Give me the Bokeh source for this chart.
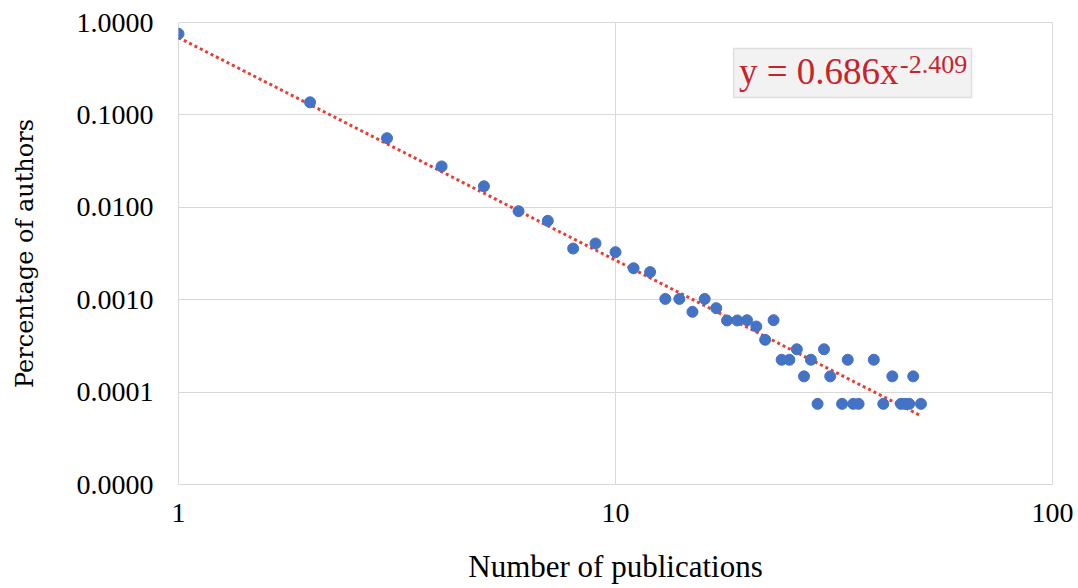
import numpy as np
from bokeh.plotting import figure
from bokeh.models import (Range1d, FixedTicker, PrintfTickFormatter, Label,
                          BoxAnnotation)
from bokeh.embed import file_html
from bokeh.resources import INLINE

# ---- data ----
publications = [1, 2, 3, 4, 5, 6, 7, 8, 9, 10, 11, 12, 13, 14, 15, 16, 17, 18,
                19, 20, 21, 22, 23, 24, 25, 26, 27, 28, 29, 30, 31, 33, 34, 35,
                36, 39, 41, 43, 45, 46, 47, 48, 50]
pct_authors = [0.755, 0.137, 0.056, 0.0277, 0.0169, 0.00908, 0.00714, 0.00358,
               0.00406, 0.00327, 0.00219, 0.00199, 0.00102, 0.00102, 0.00074,
               0.00102, 0.00081, 0.000596, 0.000596, 0.0006, 0.000513, 0.000368,
               0.0006, 0.000224, 0.000224, 0.000291, 0.000148, 0.000224,
               0.0000746, 0.000291, 0.000148, 0.0000746, 0.000224, 0.0000746,
               0.0000746, 0.000224, 0.0000746, 0.000148, 0.0000746, 0.0000746,
               0.0000746, 0.000148, 0.0000746]
fit_coef = 0.686
fit_exp = -2.409
fit_range = [1, 50]
x_ticks = [1, 10, 100]
y_ticks = [0.00001, 0.0001, 0.001, 0.01, 0.1, 1.0]

FONT = "Liberation Serif"

p = figure(width=1076, height=586, x_axis_type="log", y_axis_type="log",
           x_range=Range1d(1, 100), y_range=Range1d(0.00001, 1.0),
           output_backend="svg", toolbar_location=None,
           min_border_left=178, min_border_right=24, min_border_top=22,
           min_border_bottom=102)

p.outline_line_color = "#D9D9D9"
p.outline_line_width = 1
p.background_fill_color = "white"
p.border_fill_color = "white"

# grid
p.xgrid.grid_line_color = "#D9D9D9"
p.ygrid.grid_line_color = "#D9D9D9"
p.xgrid.grid_line_width = 1
p.ygrid.grid_line_width = 1

# axes
p.xaxis.ticker = FixedTicker(ticks=x_ticks, minor_ticks=[])
p.yaxis.ticker = FixedTicker(ticks=y_ticks, minor_ticks=[])
p.xaxis.formatter = PrintfTickFormatter(format="%d")
p.yaxis.formatter = PrintfTickFormatter(format="%.4f")
for ax in (p.xaxis[0], p.yaxis[0]):
    ax.axis_line_color = None
    ax.major_tick_line_color = None
    ax.minor_tick_line_color = None
    ax.major_tick_out = 0
    ax.major_tick_in = 0
    ax.major_label_text_font = FONT
    ax.major_label_text_font_size = "28px"
    ax.major_label_text_color = "black"
    ax.axis_label_text_font_style = "normal"
    ax.axis_label_text_color = "black"

p.xaxis.axis_label = "Number of publications"
p.xaxis.axis_label_text_font = FONT
p.xaxis.axis_label_text_font_size = "31px"
p.yaxis.axis_label = "Percentage of authors"
p.yaxis.axis_label_text_font = "DejaVu Serif"
p.yaxis.axis_label_text_font_size = "24px"
p.xaxis.major_label_standoff = 19
p.yaxis.major_label_standoff = 25
p.xaxis.axis_label_standoff = 24
p.yaxis.axis_label_standoff = 35

# trend line
fx = np.geomspace(fit_range[0], fit_range[1], 200)
fy = fit_coef * fx ** fit_exp
p.line(fx, fy, line_color="#EE3B32", line_width=3, line_dash="3 3",
       line_cap="butt")

# scatter
p.scatter(publications, pct_authors, size=11, fill_color="#4472C4",
          line_color="#4472C4", line_width=1)

# equation box
box = BoxAnnotation(left=18.63, right=65.3, top=0.523, bottom=0.154,
                    fill_color="#F2F2F2", fill_alpha=1.0,
                    line_color="#A6A6A6", line_width=1.5, level="overlay")
p.add_layout(box)
main = Label(x=19.17, y=0.295, text="y = 0.686x", text_font=FONT,
             text_font_size="37px", text_color="#C8232B",
             text_baseline="alphabetic", level="overlay")
sup = Label(x=19.17, y=0.349, x_offset=161, text="-2.409", text_font=FONT,
            text_font_size="26px", text_color="#C8232B",
            text_baseline="alphabetic", level="overlay")
p.add_layout(main)
p.add_layout(sup)

open("out.html", "w").write(file_html(p, INLINE))
